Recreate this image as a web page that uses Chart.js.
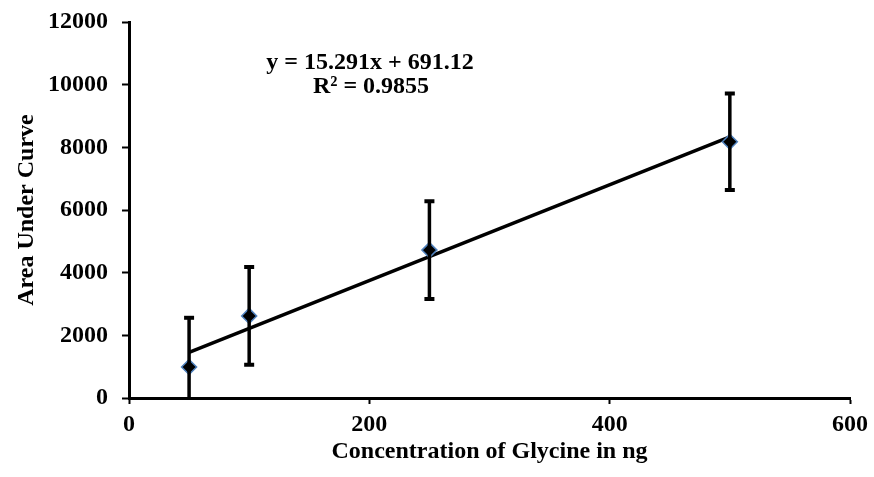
<!DOCTYPE html>
<html>
<head>
<meta charset="utf-8">
<script src="https://cdn.jsdelivr.net/npm/chart.js@4"></script>
<style>
  html, body { margin: 0; padding: 0; background: #fff; }
  #wrap { width: 874px; height: 477px; }
</style>
</head>
<body>
<div id="wrap"><canvas id="glycineChart"></canvas></div>
<script>
const concentrations = [50, 100, 250, 500];
const areaValues = [990, 2620, 4720, 8180];
const errorValues = [1570, 1560, 1560, 1540];
const slope = 15.291;
const intercept = 691.12;
const equationLines = ['y = 15.291x + 691.12', 'R\u00b2 = 0.9855'];

const font = 'Liberation Serif, Times New Roman, serif';

const trendStart = concentrations[0];
const trendEnd = concentrations[concentrations.length - 1];

const errorBars = {
  id: 'errorBars',
  afterDatasetsDraw(chart) {
    const { ctx, scales: { x, y } } = chart;
    ctx.save();
    ctx.strokeStyle = '#000';
    concentrations.forEach((c, i) => {
      const px = x.getPixelForValue(c);
      const top = y.getPixelForValue(areaValues[i] + errorValues[i]);
      const lowVal = areaValues[i] - errorValues[i];
      const bottom = y.getPixelForValue(Math.max(lowVal, 0));
      ctx.lineWidth = 3.5;
      ctx.beginPath();
      ctx.moveTo(px, top);
      ctx.lineTo(px, bottom);
      ctx.stroke();
      ctx.lineWidth = 4;
      ctx.beginPath();
      ctx.moveTo(px - 5, top);
      ctx.lineTo(px + 5, top);
      if (lowVal > 0) {
        ctx.moveTo(px - 5, bottom);
        ctx.lineTo(px + 5, bottom);
      }
      ctx.stroke();
    });
    ctx.restore();
  }
};

const equationLabel = {
  id: 'equationLabel',
  afterDraw(chart) {
    const { ctx } = chart;
    ctx.save();
    ctx.fillStyle = '#000';
    ctx.font = 'bold 24px ' + font;
    ctx.textAlign = 'center';
    ctx.textBaseline = 'middle';
    ctx.fillText(equationLines[0], 370, 63);
    ctx.fillText(equationLines[1], 371, 87);
    ctx.restore();
  }
};

const tickFont = { family: font, size: 24, weight: 'bold', lineHeight: 1 };

new Chart(document.getElementById('glycineChart'), {
  type: 'scatter',
  data: {
    datasets: [
      {
        label: 'Trendline',
        type: 'line',
        data: [
          { x: trendStart, y: slope * trendStart + intercept },
          { x: trendEnd, y: slope * trendEnd + intercept }
        ],
        borderColor: '#000',
        borderWidth: 3.5,
        pointRadius: 0,
        order: 2
      },
      {
        label: 'Area Under Curve',
        data: concentrations.map((c, i) => ({ x: c, y: areaValues[i] })),
        pointStyle: 'rectRot',
        pointRadius: 7.5,
        pointBackgroundColor: '#000',
        pointBorderColor: '#4f81bd',
        pointBorderWidth: 1.5,
        order: 1
      }
    ]
  },
  options: {
    responsive: true,
    maintainAspectRatio: false,
    animation: false,
    layout: { padding: { left: 0, right: 24, top: 22, bottom: 0 } },
    plugins: {
      legend: { display: false },
      tooltip: { enabled: false }
    },
    scales: {
      x: {
        type: 'linear',
        min: 0,
        max: 600,
        ticks: { stepSize: 200, color: '#000', font: tickFont, padding: 9, callback: v => String(v) },
        grid: { drawOnChartArea: false, tickLength: 6, tickColor: '#000', tickWidth: 2 },
        border: { color: '#000', width: 3 },
        title: { display: true, text: 'Concentration of Glycine in ng', color: '#000', font: tickFont, padding: { top: 0, bottom: 13 } },
        afterFit(scale) { scale.height = 79; scale.paddingRight = 0; scale.paddingLeft = 0; }
      },
      y: {
        min: 0,
        max: 12000,
        ticks: { stepSize: 2000, color: '#000', font: tickFont, padding: 14, callback: v => String(v) },
        grid: { drawOnChartArea: false, tickLength: 7, tickColor: '#000', tickWidth: 2 },
        border: { color: '#000', width: 3 },
        title: { display: true, text: 'Area Under Curve', color: '#000', font: tickFont, padding: { top: 15, bottom: 0 } },
        afterFit(scale) { scale.width = 129; scale.paddingTop = 0; scale.paddingBottom = 0; }
      }
    }
  },
  plugins: [errorBars, equationLabel]
});
</script>
</body>
</html>
